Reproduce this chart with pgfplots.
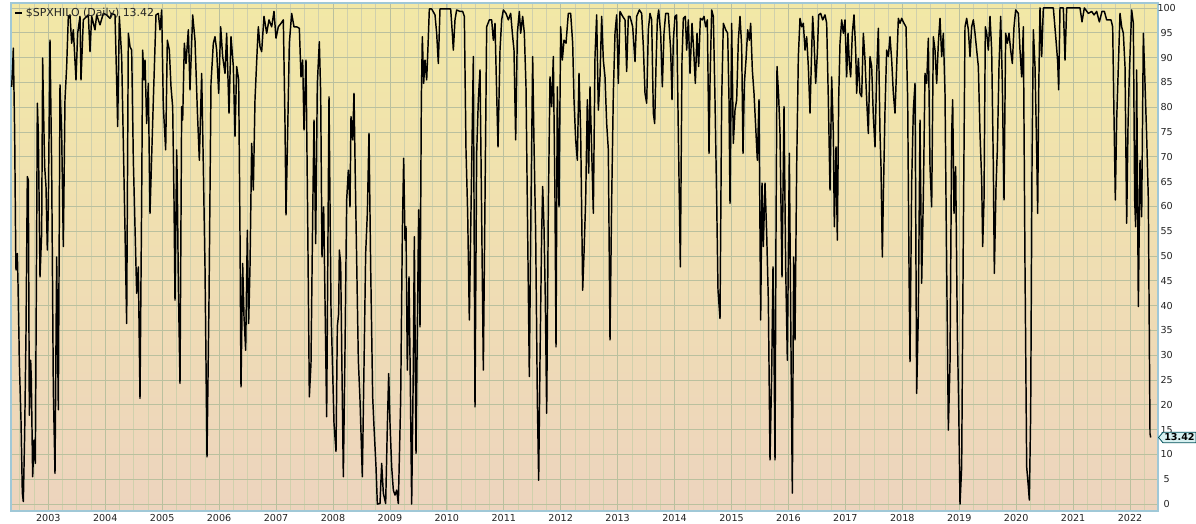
\documentclass[border=0pt]{standalone}
\usepackage{fontspec}
\setmainfont{DejaVu Sans}
\usepackage{pgfplots}
\pgfplotsset{compat=1.18}
\usetikzlibrary{shapes.symbols}
\definecolor{bgtop}{RGB}{242,232,166}
\definecolor{bgbot}{RGB}{237,212,190}
\definecolor{axisblue}{RGB}{160,200,215}
\definecolor{gridmin}{RGB}{208,208,172}
\definecolor{gridmaj}{RGB}{186,192,158}
\definecolor{tagfill}{RGB}{215,240,240}
\definecolor{tagdraw}{RGB}{0,80,90}
\definecolor{labcol}{RGB}{35,35,35}
\pgfplotstableread{
X v
35 84.1
38 88.2
40 91.9
44 74.7
47 51.9
48 47.2
52 50.5
54 44.5
57 33.1
58 28.7
63 16.9
67 2.2
70 0.5
74 14.2
78 34.4
82 66.0
85 65.3
88 17.9
92 29.0
94 25.0
98 5.5
102 12.9
106 8.2
110 54.6
112 80.8
115 74.7
120 45.8
125 54.6
128 89.9
130 81.5
134 68.0
138 64.0
142 51.2
145 59.9
150 93.5
155 68.0
160 23.0
165 6.2
170 49.8
175 19.0
180 84.5
185 74.7
190 51.9
195 81.5
200 88.2
205 98.3
210 98.6
215 92.9
220 95.6
228 85.5
233 94.9
240 98.3
243 85.5
250 97.6
265 98.6
270 91.2
275 98.3
285 95.6
290 98.6
300 96.6
310 98.9
320 98.6
330 97.9
335 98.9
345 98.6
350 85.1
353 76.1
358 98.3
365 90.2
375 55.2
380 36.4
385 94.9
390 92.2
395 91.5
400 69.3
410 42.5
415 47.8
420 21.3
425 61.3
428 91.5
432 85.5
435 89.5
440 76.7
445 84.8
450 58.6
460 81.4
468 98.6
475 98.9
480 95.6
485 99.6
490 80.1
497 71.4
502 93.5
508 91.5
513 84.1
518 80.1
522 61.3
525 41.1
530 71.4
532 64.0
535 44.5
540 24.3
545 80.1
548 77.4
553 92.9
558 88.8
565 95.6
570 83.5
578 98.6
585 93.5
592 79.4
598 69.3
605 86.8
610 68.0
615 47.8
621 9.5
627 41.1
633 84.8
640 92.9
645 94.2
650 91.5
656 82.8
662 96.2
668 90.2
675 86.8
680 94.9
687 78.8
693 94.2
700 88.2
705 74.1
710 88.2
716 85.5
720 54.6
723 23.6
728 48.5
732 37.8
737 31.0
742 55.2
746 36.4
750 47.8
755 72.7
760 63.3
765 81.5
772 92.2
775 96.2
780 92.2
785 91.2
792 98.3
800 94.9
807 97.6
815 96.2
822 99.3
828 93.9
835 96.2
843 96.9
850 97.6
855 76.7
858 58.3
862 71.4
868 92.9
875 98.9
882 96.2
890 96.2
898 95.9
903 86.1
908 89.5
912 75.4
918 89.5
923 57.9
928 21.6
933 28.4
938 57.9
942 77.4
947 52.5
952 84.8
958 93.2
962 82.8
966 49.8
971 59.9
975 41.1
980 17.6
987 82.1
993 39.5
1002 16.3
1008 10.6
1012 35.8
1016 38.4
1018 51.2
1022 48.5
1025 31.7
1030 5.5
1035 31.0
1040 61.3
1045 67.3
1050 59.9
1053 78.1
1058 73.4
1062 82.8
1066 65.3
1070 49.2
1075 29.0
1080 21.0
1087 5.5
1092 27.7
1097 50.5
1102 58.6
1107 74.7
1112 47.8
1118 21.6
1122 15.6
1128 7.5
1132 0.0
1140 0.1
1145 8.2
1150 2.2
1157 0.1
1162 15.6
1166 26.3
1170 16.3
1175 7.5
1180 2.8
1185 1.8
1190 2.8
1195 0.1
1202 21.0
1207 54.6
1211 69.7
1215 53.2
1218 55.9
1222 27.0
1227 45.8
1231 24.3
1235 0.0
1240 27.7
1243 53.9
1248 10.2
1252 35.1
1256 59.3
1260 35.7
1264 81.5
1267 94.2
1271 84.8
1275 89.5
1280 85.5
1284 92.2
1288 99.8
1295 99.8
1305 98.6
1310 94.9
1315 88.8
1320 99.8
1335 99.8
1345 99.8
1352 99.8
1357 94.9
1360 91.5
1365 97.6
1370 99.6
1380 99.3
1388 99.3
1393 98.3
1398 71.4
1403 58.6
1408 37.1
1415 68.0
1420 90.2
1425 19.6
1430 70.7
1435 81.5
1440 87.5
1445 57.9
1450 27.0
1455 61.3
1460 96.2
1468 97.6
1475 97.6
1480 93.5
1485 96.9
1490 82.8
1494 72.0
1500 91.5
1505 97.6
1510 99.6
1518 98.9
1525 97.6
1532 98.9
1538 94.2
1542 91.5
1547 73.4
1552 94.9
1558 99.3
1562 94.9
1568 98.3
1573 94.9
1578 84.1
1583 54.6
1588 25.7
1593 59.9
1598 90.2
1602 72.7
1607 54.6
1612 21.0
1616 4.8
1620 29.0
1625 54.6
1628 64.0
1632 55.9
1636 41.1
1640 18.3
1645 59.9
1650 86.1
1655 80.1
1660 90.2
1665 61.3
1668 31.7
1672 84.1
1677 59.9
1682 96.2
1687 89.5
1692 93.5
1698 92.9
1705 98.9
1712 98.9
1718 92.9
1722 81.5
1727 73.4
1732 69.3
1737 86.8
1742 74.7
1748 43.1
1752 50.5
1757 61.3
1762 81.5
1766 66.7
1770 84.1
1775 71.4
1780 58.6
1785 90.2
1790 98.6
1795 79.4
1800 86.1
1805 98.3
1810 89.5
1815 86.1
1820 76.7
1825 71.4
1830 33.1
1835 61.3
1840 82.8
1845 94.9
1850 98.6
1855 84.8
1860 99.3
1868 98.3
1875 97.6
1880 87.2
1885 98.3
1890 98.3
1898 96.2
1905 89.2
1910 98.3
1918 99.6
1925 98.9
1930 92.2
1935 82.8
1940 80.8
1945 95.6
1950 98.9
1955 97.6
1960 78.8
1964 76.7
1968 88.2
1972 97.6
1976 99.6
1982 94.9
1987 84.1
1992 94.9
1997 98.9
2005 98.9
2012 91.5
2016 81.5
2020 93.5
2025 98.3
2030 98.6
2035 74.7
2041 47.8
2046 89.5
2050 97.9
2056 98.3
2060 91.5
2065 97.6
2070 86.8
2076 96.9
2081 91.5
2086 84.8
2091 94.9
2096 88.2
2101 97.9
2107 97.6
2112 98.3
2117 96.2
2122 97.6
2127 70.7
2130 84.8
2135 99.6
2140 98.3
2145 81.5
2150 61.3
2154 43.1
2160 37.4
2165 81.5
2170 96.9
2177 95.6
2183 94.9
2187 81.5
2190 60.6
2195 96.9
2200 72.7
2205 79.4
2210 81.5
2215 93.5
2220 98.3
2225 92.2
2229 70.7
2233 84.8
2238 89.5
2243 95.6
2248 93.5
2252 96.9
2257 87.5
2262 82.8
2267 76.1
2272 69.3
2277 81.5
2282 37.1
2286 64.7
2290 51.9
2295 64.7
2300 54.6
2305 41.1
2310 8.9
2315 26.3
2319 47.8
2322 31.0
2325 8.9
2328 54.6
2331 88.2
2336 82.1
2340 74.7
2346 45.8
2352 80.1
2357 47.8
2362 29.0
2368 70.7
2373 31.0
2377 2.2
2381 49.8
2385 33.1
2390 68.0
2395 90.2
2400 97.9
2405 96.2
2410 96.9
2415 91.5
2420 94.2
2425 88.2
2430 78.8
2435 91.5
2438 98.3
2442 93.5
2447 84.8
2452 90.8
2456 98.6
2462 98.9
2468 97.6
2475 98.6
2480 96.9
2485 81.5
2490 63.3
2495 86.1
2500 74.7
2503 55.9
2508 72.0
2512 53.2
2516 81.5
2520 92.9
2525 97.6
2530 94.9
2535 97.6
2540 86.1
2544 94.9
2548 88.8
2552 86.1
2557 94.9
2562 98.6
2567 91.5
2570 82.8
2575 89.8
2580 82.8
2585 82.1
2590 94.9
2595 89.5
2600 81.5
2605 74.7
2610 90.2
2615 88.2
2620 78.1
2625 72.0
2630 86.8
2635 95.9
2640 74.7
2643 68.0
2647 49.8
2650 61.9
2655 79.4
2660 91.5
2665 90.2
2670 94.2
2675 89.5
2680 82.8
2685 78.8
2690 88.2
2695 97.9
2700 96.9
2705 97.9
2712 96.9
2718 96.2
2723 81.5
2727 47.8
2730 28.7
2735 64.7
2740 79.4
2745 84.8
2750 22.3
2755 38.4
2760 77.4
2765 44.5
2770 61.9
2775 86.8
2780 84.8
2785 93.9
2790 68.0
2795 59.9
2800 94.2
2805 91.5
2810 84.8
2815 92.9
2820 97.9
2825 90.2
2830 94.9
2835 82.8
2840 47.8
2845 14.9
2850 28.4
2855 74.7
2858 81.5
2862 58.6
2867 68.0
2872 34.4
2876 20.3
2880 0.0
2885 7.5
2890 54.6
2895 96.2
2900 97.9
2905 95.6
2910 90.2
2915 96.2
2920 97.6
2925 94.9
2930 91.5
2935 88.2
2940 74.7
2945 65.3
2948 51.9
2952 61.3
2956 96.2
2960 94.9
2965 91.5
2970 98.3
2975 91.5
2980 68.0
2983 46.5
2988 63.9
2992 71.4
2997 88.2
3002 98.3
3007 84.8
3012 61.3
3017 94.9
3022 92.9
3027 94.9
3032 91.5
3037 88.8
3042 96.2
3047 99.6
3055 98.9
3060 91.5
3065 86.1
3070 96.2
3075 47.8
3080 7.5
3085 3.5
3088 0.8
3092 18.3
3096 68.0
3100 95.6
3105 88.2
3110 71.4
3113 58.6
3116 82.8
3120 100
3125 90.2
3130 100
3160 100
3168 93.5
3173 89.2
3176 83.5
3180 100
3190 100
3195 89.5
3200 100
3240 100
3246 97.2
3253 100
3265 98.9
3275 99.3
3282 98.6
3290 99.3
3298 97.2
3306 99.3
3313 99.3
3320 97.6
3333 97.6
3338 96.2
3342 78.1
3346 61.3
3350 77.4
3355 88.2
3360 98.9
3365 96.2
3370 94.9
3375 88.2
3380 56.6
3384 76.1
3388 86.8
3395 99.6
3400 96.9
3404 61.3
3407 55.9
3410 87.5
3415 39.8
3420 69.3
3425 57.9
3430 94.9
3435 84.8
3440 74.1
3445 61.3
3450 14.2
3452 13.42
}\spxhilo
\begin{document}
\begin{tikzpicture}
\useasboundingbox (-8.25pt,-9.75pt) rectangle (888.75pt,383.25pt);
\begin{axis}[
  scale only axis, width=860.25pt, height=381pt,
  xmin=33, xmax=3474, ymin=-1.4, ymax=101.0,
  clip=false,
  axis background/.style={top color=bgtop, bottom color=bgbot},
  axis line style={draw=axisblue, line width=0.8pt},
  xtick={144.9,315.7,486.5,657.3,828.1,998.9,1169.7,1340.5,1511.3,1682.1,1852.9,2023.7,2194.5,2365.3,2536.1,2706.9,2877.7,3048.5,3219.3,3390.1},
  xticklabels={2003,2004,2005,2006,2007,2008,2009,2010,2011,2012,2013,2014,2015,2016,2017,2018,2019,2020,2021,2022},
  minor xtick={59.5,102.2,...,3474},
  ytick={0,5,...,100},
  ytick pos=right, yticklabel pos=right,
  xtick pos=bottom,
  xmajorgrids, xminorgrids, ymajorgrids,
  major grid style={draw=gridmaj, line width=0.55pt},
  minor grid style={draw=gridmin, line width=0.5pt},
  major tick length=0pt, minor tick length=0pt,
  /pgf/number format/assume math mode=true,
  ticklabel style={font=\fontsize{7.2}{8}\selectfont, text=labcol},
  xticklabel style={anchor=center, yshift=-5.6pt},
  yticklabel style={anchor=center, xshift=6.5pt},
  legend style={at={(0.001,0.999)}, anchor=north west, draw=none, fill=none,
    font=\fontsize{8.2}{9}\selectfont, text=labcol, inner sep=1pt,
    legend cell align=left},
  legend image code/.code={\draw[line width=1.6pt] (0pt,0pt) -- (5.5pt,0pt);},
]
\addplot[black, line width=1.1pt, line join=round] table[x=X, y=v] {\spxhilo};
\addlegendentry{\$SPXHILO (Daily) 13.42}
\node[signal, signal to=west, signal pointer angle=100, draw=tagdraw, fill=tagfill,
  line width=0.6pt, inner xsep=1pt, inner ysep=1.2pt, anchor=west,
  font=\bfseries\fontsize{7.2}{8}\selectfont] at (axis cs:3474,13.42) {13.42};
\end{axis}
\end{tikzpicture}
\end{document}
